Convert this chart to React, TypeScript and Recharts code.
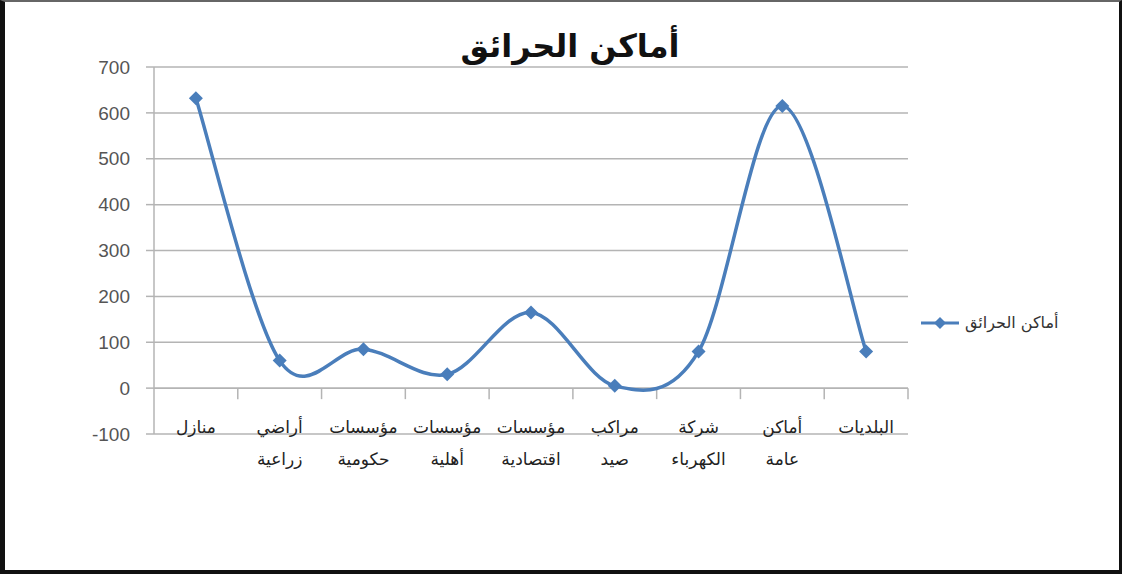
import React from 'react';
import { LineChart, Line, XAxis, YAxis, CartesianGrid, ReferenceLine } from 'recharts';

// Fire locations: each category label is split over two lines
const categories: string[][] = [
  ['منازل'],
  ['أراضي', 'زراعية'],
  ['مؤسسات', 'حكومية'],
  ['مؤسسات', 'أهلية'],
  ['مؤسسات', 'اقتصادية'],
  ['مراكب', 'صيد'],
  ['شركة', 'الكهرباء'],
  ['أماكن', 'عامة'],
  ['البلديات'],
];
const fireCounts = [632, 60, 85, 30, 165, 5, 80, 615, 80];
const yTicks = [-100, 0, 100, 200, 300, 400, 500, 600, 700];
const seriesName = 'أماكن الحرائق';
const chartTitle = 'أماكن الحرائق';

const BLUE = '#4a7ebb';
const GRID = '#b4b4b4';

// categories sit at half-steps so the band edges land on whole numbers
const data = fireCounts.map((value, i) => ({ pos: i + 0.5, value }));
const labelTicks = categories.map((_, i) => i + 0.5);
const bandEdges = categories.slice(1).map((_, i) => i + 1).concat(categories.length);

// Catmull-Rom style bezier smoothing, the way spreadsheet "smoothed line" charts do it
const smoothCurve = (context: any) => {
  let pts: [number, number][] = [];
  return {
    areaStart() {},
    areaEnd() {},
    lineStart() {
      pts = [];
    },
    point(x: number, y: number) {
      pts.push([+x, +y]);
    },
    lineEnd() {
      if (!pts.length) return;
      context.moveTo(pts[0][0], pts[0][1]);
      for (let i = 0; i < pts.length - 1; i++) {
        const p0 = pts[i - 1] || pts[i];
        const p1 = pts[i];
        const p2 = pts[i + 1];
        const p3 = pts[i + 2] || p2;
        context.bezierCurveTo(
          p1[0] + (p2[0] - p0[0]) / 6,
          p1[1] + (p2[1] - p0[1]) / 6,
          p2[0] - (p3[0] - p1[0]) / 6,
          p2[1] - (p3[1] - p1[1]) / 6,
          p2[0],
          p2[1]
        );
      }
    },
  };
};

const Diamond = (props: any) => {
  const { cx, cy } = props;
  if (cx == null || cy == null) return null;
  const r = 7;
  return <path d={`M${cx},${cy - r}L${cx + r},${cy}L${cx},${cy + r}L${cx - r},${cy}Z`} fill={BLUE} />;
};

const CategoryTick = (props: any) => {
  const { x, y, payload } = props;
  const idx = Math.round(payload.value - 0.5);
  const lines = categories[idx] || [];
  return (
    <g>
      {lines.map((t, i) => (
        <text
          key={i}
          x={x}
          y={y - 1 + i * 32}
          textAnchor="middle"
          fontSize={17}
          fill="#222"
          fontFamily="'DejaVu Sans', sans-serif"
        >
          {t}
        </text>
      ))}
    </g>
  );
};

export default function App() {
  return (
    <div
      style={{
        position: 'absolute',
        left: 0,
        top: 0,
        width: 1122,
        height: 574,
        boxSizing: 'border-box',
        borderTop: '2px solid #666',
        borderLeft: '5px solid #111',
        borderRight: '3px solid #111',
        borderBottom: '4px solid #111',
        background: '#fff',
        overflow: 'hidden',
      }}
    >
      <div
        style={{
          position: 'absolute',
          left: 0,
          width: 1130,
          top: 25,
          textAlign: 'center',
          fontFamily: "'DejaVu Sans', sans-serif",
          fontWeight: 'bold',
          fontSize: 32,
          color: '#111',
          direction: 'rtl',
        }}
      >
        {chartTitle}
      </div>
      <div style={{ position: 'absolute', left: -5, top: -2 }}>
        <LineChart width={1122} height={574} data={data} margin={{ top: 67, right: 214, bottom: 80, left: 0 }}>
          <CartesianGrid vertical={false} stroke={GRID} strokeWidth={1.5} />
          <XAxis
            dataKey="pos"
            type="number"
            domain={[0, categories.length]}
            ticks={labelTicks}
            interval={0}
            axisLine={false}
            tickLine={false}
            tickSize={0}
            tickMargin={0}
            height={60}
            tick={<CategoryTick />}
          />
          <YAxis
            domain={[-100, 700]}
            ticks={yTicks}
            width={154}
            axisLine={{ stroke: GRID, strokeWidth: 1.5 }}
            tickLine={{ stroke: GRID, strokeWidth: 1.5 }}
            tickSize={8}
            tickMargin={16}
            tick={{ fontSize: 19, fill: '#555', fontFamily: "'Liberation Sans', Arial, sans-serif" }}
          />
          <ReferenceLine y={0} stroke={GRID} strokeWidth={1.5} />
          {bandEdges.map((e) => (
            <ReferenceLine
              key={e}
              segment={[
                { x: e, y: 0 },
                { x: e, y: -24 },
              ]}
              stroke={GRID}
              strokeWidth={1.5}
            />
          ))}
          <Line
            dataKey="value"
            name={seriesName}
            type={smoothCurve as any}
            stroke={BLUE}
            strokeWidth={3.5}
            dot={<Diamond />}
            activeDot={false}
            isAnimationActive={false}
          />
        </LineChart>
      </div>
      <div
        style={{
          position: 'absolute',
          left: 914,
          top: 311,
          display: 'flex',
          alignItems: 'center',
          fontFamily: "'DejaVu Sans', sans-serif",
        }}
      >
        <svg width={42} height={16}>
          <line x1={2} y1={8} x2={40} y2={8} stroke={BLUE} strokeWidth={3} />
          <path d="M21,2L27,8L21,14L15,8Z" fill={BLUE} />
        </svg>
        <span style={{ fontSize: 16, color: '#333', marginLeft: 4 }}>{seriesName}</span>
      </div>
    </div>
  );
}
